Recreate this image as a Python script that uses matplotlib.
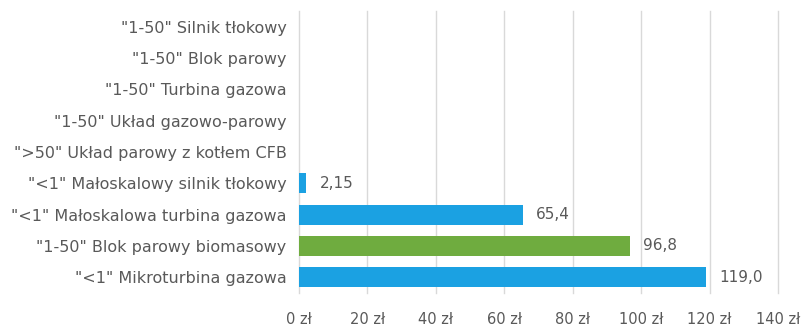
import matplotlib
matplotlib.use("Agg")
import matplotlib.pyplot as plt
import numpy as np

categories = [
    '"1-50" Silnik tłokowy',
    '"1-50" Blok parowy',
    '"1-50" Turbina gazowa',
    '"1-50" Układ gazowo-parowy',
    '">50" Układ parowy z kotłem CFB',
    '"<1" Małoskalowy silnik tłokowy',
    '"<1" Małoskalowa turbina gazowa',
    '"1-50" Blok parowy biomasowy',
    '"<1" Mikroturbina gazowa',
]
values = [None, None, None, None, None, 2.15, 65.4, 96.8, 119.0]
value_labels = ["", "", "", "", "", "2,15", "65,4", "96,8", "119,0"]
bar_colors = ["#1ba1e2"] * 7 + ["#6fac3f", "#1ba1e2"]
xticks = [0, 20, 40, 60, 80, 100, 120, 140]
xtick_labels = [f"{t} zł" for t in xticks]

plt.rcParams['font.family'] = ['DejaVu Sans']
text_color = "#595959"

fig = plt.figure(figsize=(8.12, 3.27), dpi=100)
ax = fig.add_axes([299/812, 1 - 293/327, (778-299)/812, (293-11)/327])

y = np.arange(len(categories))
vals = [v if v is not None else 0 for v in values]
bars = ax.barh(y, vals, height=0.64, color=bar_colors, zorder=3)
for yi, v, lab in zip(y, vals, value_labels):
    if lab:
        ax.annotate(lab, xy=(v, yi), xytext=(9.5, 0), textcoords="offset points",
                    va="center", ha="left", fontsize=11, color=text_color)

ax.set_ylim(len(categories) - 0.5, -0.5)
ax.set_xlim(0, 140)
ax.set_yticks(y)
ax.set_yticklabels(categories, fontsize=11.5, color=text_color)
ax.set_xticks(xticks)
ax.set_xticklabels(xtick_labels, fontsize=10.5, color=text_color)
ax.tick_params(axis="both", length=0)
ax.tick_params(axis="y", pad=9)
ax.tick_params(axis="x", pad=14)
ax.grid(axis="x", color="#d9d9d9", linewidth=1, zorder=0)
for gl in ax.get_xgridlines():
    gl.set_clip_on(False)
for s in ax.spines.values():
    s.set_visible(False)

fig.savefig("out.png", dpi=100, facecolor="white")
